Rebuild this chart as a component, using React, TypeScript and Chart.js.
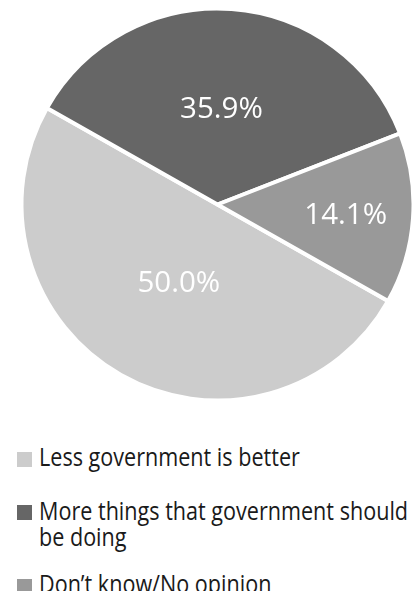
import React, { useEffect, useRef } from "react";
import { Chart, registerables } from "chart.js";

Chart.register(...registerables);

const categories = [
  "Less government is better",
  "More things that government should be doing",
  "Don\u2019t know/No opinion",
];
const values = [50.0, 35.9, 14.1];
const valueLabels = ["50.0%", "35.9%", "14.1%"];
const colors = ["#cccccc", "#666666", "#999999"];
const labelRadiusFractions = [0.44, 0.495, 0.656];
const labelAngleShifts = [-0.05, -0.031, 0];

const FONT = "'Open Sans', 'DejaVu Sans', sans-serif";
const LABEL_SIZE = 29.5;

const labelPlugin = {
  id: "sliceLabels",
  afterDatasetsDraw(chart: any) {
    const ctx = chart.ctx;
    const meta = chart.getDatasetMeta(0);
    ctx.save();
    ctx.fillStyle = "#ffffff";
    ctx.font = `400 ${LABEL_SIZE}px ${FONT}`;
    ctx.textAlign = "center";
    ctx.textBaseline = "alphabetic";
    const capHalf = (LABEL_SIZE * 0.714) / 2;
    meta.data.forEach((arc: any, i: number) => {
      const p = arc.getProps(["x", "y", "startAngle", "endAngle", "outerRadius"], true);
      const mid = (p.startAngle + p.endAngle) / 2 + labelAngleShifts[i];
      const r = p.outerRadius * labelRadiusFractions[i];
      ctx.fillText(valueLabels[i], p.x + Math.cos(mid) * r, p.y + Math.sin(mid) * r + capHalf);
    });
    ctx.restore();
  },
};

const legendTops = [435.3, 488.6, 562.2];
const SCALE_X = 0.83;

export default function App() {
  const ref = useRef<HTMLCanvasElement>(null);
  useEffect(() => {
    if (!ref.current) return;
    const chart = new Chart(ref.current, {
      type: "pie",
      data: {
        labels: categories,
        datasets: [
          {
            data: values,
            backgroundColor: colors,
            borderColor: "#ffffff",
            borderWidth: 4,
            hoverOffset: 0,
            clip: false as any,
          },
        ],
      },
      options: {
        animation: false,
        responsive: false,
        rotation: 119.5,
        radius: 196,
        layout: { padding: { left: 15, right: 0, top: 0, bottom: 7 } },
        plugins: {
          legend: { display: false },
          tooltip: { enabled: false },
        },
      } as any,
      plugins: [labelPlugin],
    });
    return () => chart.destroy();
  }, []);

  return (
    <div
      style={{
        fontFamily: FONT,
        position: "relative",
        width: 404,
        height: 591,
        marginBottom: -8,
        overflow: "hidden",
      }}
    >
      <canvas
        ref={ref}
        width={404}
        height={400}
        style={{ display: "block", width: 404, height: 400, position: "absolute", left: 0, top: 0 }}
      />
      {categories.map((c, i) => (
        <div
          key={c}
          style={{
            position: "absolute",
            left: 0,
            top: legendTops[i],
            width: 404,
            fontSize: 26,
            fontWeight: 500,
            lineHeight: "26.5px",
            color: "#1a1a1a",
          }}
        >
          <span
            style={{
              position: "absolute",
              left: 9.3,
              top: 8.4,
              width: 15,
              height: 15,
              background: colors[i],
            }}
          />
          <div
            style={{
              position: "absolute",
              left: 31.3,
              top: 0,
              width: 449,
              transform: `scaleX(${SCALE_X})`,
              transformOrigin: "0 0",
            }}
          >
            {c}
          </div>
        </div>
      ))}
    </div>
  );
}
